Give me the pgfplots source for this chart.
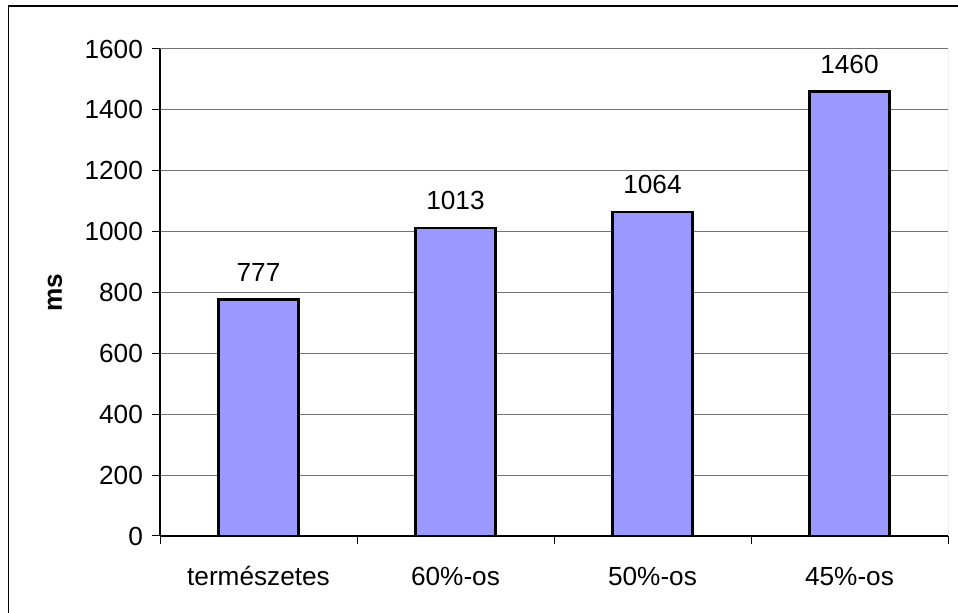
\documentclass[border=0pt]{standalone}
\usepackage{fontspec}
\setmainfont{Liberation Sans}
\usepackage{pgfplots}
\pgfplotsset{compat=1.18}
\definecolor{barblue}{HTML}{9999FF}
\begin{document}
\fontsize{13.1}{15}\selectfont
\begin{tikzpicture}
\path[use as bounding box] (0,0) rectangle (479pt,306.5pt);
\draw[line width=0.6pt] (4.25pt,0) -- (4.25pt,303.5pt) -- (479pt,303.5pt);
\begin{axis}[
    at={(80pt,38.5pt)}, anchor=south west,
    scale only axis, width=394pt, height=243.5pt,
    ymin=0, ymax=1600, ytick={0,200,...,1600},
    xmin=-0.5, xmax=3.5,
    xtick={0,1,2,3},
    xticklabels={természetes,60\%-os,50\%-os,45\%-os},
    minor xtick={-0.5,0.5,1.5,2.5,3.5},
    major x tick style={draw=none},
    axis x line*=bottom, axis y line*=left,
    axis line style={black, line width=0.6pt},
    ymajorgrids, grid style={gray!90!black, line width=0.5pt},
    tick align=outside, tick style={black, line width=0.5pt},
    major tick length=4pt, minor tick length=4pt,
    ylabel={\textbf{ms}},
    ylabel style={at={(axis description cs:-0.1332,0.5)}, anchor=center},
    yticklabel style={anchor=east, xshift=0pt},
    xticklabel style={anchor=base, yshift=-21pt},
    /pgf/number format/assume math mode=true,
    /pgf/number format/1000 sep={},
    ybar, bar width=40pt,
    nodes near coords,
    nodes near coords style={anchor=base, yshift=9.2pt, /pgf/number format/assume math mode=true, /pgf/number format/1000 sep={}},
]
\addplot[fill=barblue, draw=black, line width=1.1pt] coordinates {
    (0,777)
    (1,1013)
    (2,1064)
    (3,1460)
};
\draw[gray, line width=0.5pt] (rel axis cs:1,0) -- (rel axis cs:1,1);
\end{axis}
\end{tikzpicture}
\end{document}
